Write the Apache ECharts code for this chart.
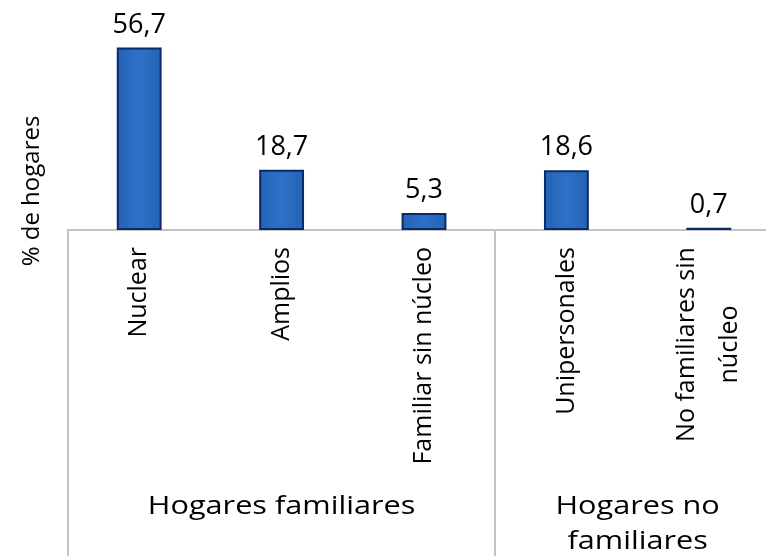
<!DOCTYPE html>
<html>
<head>
<meta charset="utf-8">
<script src="https://cdn.jsdelivr.net/npm/echarts@6/dist/echarts.min.js"></script>
<style>
  html, body { margin: 0; padding: 0; background: #fff; }
  #chart { width: 766px; height: 556px; }
</style>
</head>
<body>
<div id="chart"></div>
<script>
// Datos del gráfico
var categories = ['Nuclear', 'Amplios', 'Familiar sin núcleo', 'Unipersonales', 'No familiares sin\nnúcleo'];
var values = [56.7, 18.7, 5.3, 18.6, 0.7];
var groupNames = ['Hogares familiares', 'Hogares no\nfamiliares'];
var groupFirst = [0, 3]; // primer índice de cada grupo
var groupLast = [2, 4];  // último índice de cada grupo
var yTitle = '% de hogares';

var FONT = '"Open Sans", "DejaVu Sans", sans-serif';
var TEXT = '#000';
var chartDom = document.getElementById('chart');
var myChart = echarts.init(chartDom);

// ancho de un texto, para centrar las dos líneas de la etiqueta
function textWidth(str, size) {
    var ctx = document.createElement('canvas').getContext('2d');
    ctx.font = size + 'px "Open Sans"';
    return Math.ceil(ctx.measureText(str).width);
}

var option = {
    animation: false,
    grid: { left: 68, top: 37, width: 712, height: 193, outerBoundsMode: 'none' },
    xAxis: {
        type: 'category',
        data: categories,
        axisLine: { lineStyle: { color: '#c4c4c4', width: 2 } },
        axisTick: {
            show: true,
            interval: function (index) { return groupFirst.indexOf(index) >= 0; },
            length: 330,
            lineStyle: { color: '#c4c4c4', width: 2 }
        },
        axisLabel: {
            rotate: 90,
            interval: 0,
            margin: 17,
            color: TEXT,
            fontFamily: FONT,
            fontSize: 25,
            formatter: function (val) {
                if (val.indexOf('\n') < 0) return val;
                return val.split('\n').map(function (l) { return '{c|' + l + '}'; }).join('\n');
            },
            rich: {
                c: {
                    fontFamily: FONT, fontSize: 25, color: TEXT,
                    align: 'center', lineHeight: 43,
                    width: textWidth('No familiares sin', 25)
                }
            }
        }
    },
    yAxis: {
        type: 'value',
        min: 0,
        max: 60,
        show: false
    },
    series: [{
        type: 'bar',
        data: values,
        barWidth: '31.5%',
        itemStyle: {
            color: new echarts.graphic.LinearGradient(0, 0, 1, 0, [
                { offset: 0, color: '#2462b4' },
                { offset: 0.5, color: '#2d72c8' },
                { offset: 1, color: '#2462b4' }
            ]),
            borderColor: '#0c2a6a',
            borderWidth: 2
        },
        label: {
            show: true,
            position: 'top',
            distance: 9,
            color: TEXT,
            fontFamily: FONT,
            fontSize: 27,
            formatter: function (p) { return String(p.value).replace('.', ','); }
        }
    }]
};

myChart.setOption(option);

// Título del eje y etiquetas de grupo centradas bajo sus categorías
var graphics = [{
    type: 'text',
    x: 32,
    y: 191,
    rotation: Math.PI / 2,
    style: {
        text: yTitle, fontFamily: FONT, fontSize: 24, fill: TEXT,
        align: 'center', verticalAlign: 'middle'
    }
}];
groupNames.forEach(function (name, i) {
    var x1 = myChart.convertToPixel({ xAxisIndex: 0 }, groupFirst[i]);
    var x2 = myChart.convertToPixel({ xAxisIndex: 0 }, groupLast[i]);
    graphics.push({
        type: 'text',
        x: (x1 + x2) / 2,
        y: 489,
        scaleX: 1.18,
        style: {
            text: name, fontFamily: FONT, fontSize: 26, fill: TEXT,
            align: 'center', verticalAlign: 'top', lineHeight: 35
        }
    });
});
myChart.setOption({ graphic: graphics });
</script>
</body>
</html>
